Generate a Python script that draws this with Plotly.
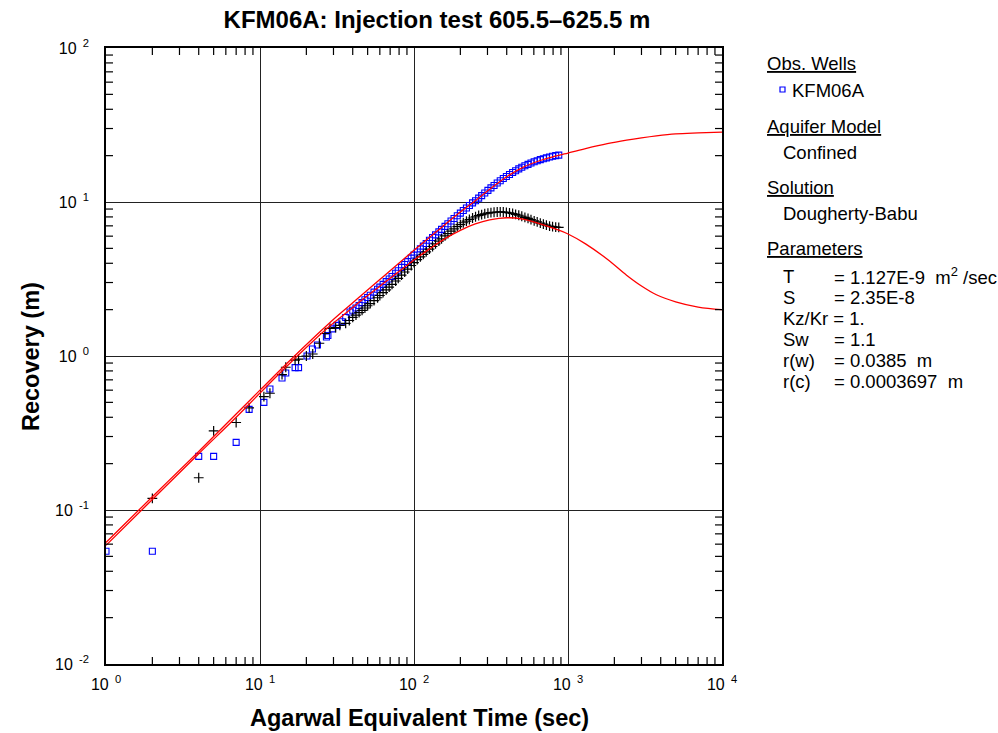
import plotly.graph_objects as go

# ---------------- data ----------------
t_blue_early = [1, 2, 4, 5, 7, 8.5, 10.6, 11.6, 13.9, 14.7, 16.9, 17.8, 20.2, 21.9, 23.6,
                27.0, 27.6, 29.5, 31.6, 34.0, 36.0, 38.4]
y_blue_early = [0.054, 0.054, 0.223, 0.223, 0.275, 0.45, 0.50, 0.61, 0.72, 0.776, 0.84, 0.84,
                1.0, 1.11, 1.18, 1.33, 1.36, 1.50, 1.58, 1.67, 1.78, 1.93]

t_dense = [40, 42, 44, 46, 48, 50, 52, 55, 58, 60, 63, 66, 69, 72, 76, 79, 83, 87, 91, 96,
           100, 105, 110, 115, 120, 126, 132, 138, 145, 151, 159, 166, 174, 182, 191, 200,
           209, 219, 229, 240, 251, 263, 275, 288, 302, 316, 331, 347, 363, 380, 398, 417,
           437, 457, 479, 501, 525, 550, 575, 603, 631, 661, 692, 724, 759, 794, 832, 871]
y_blue_dense = [1.98, 2.05, 2.13, 2.22, 2.32, 2.40, 2.48, 2.60, 2.71, 2.80, 2.92, 3.04, 3.16,
                3.28, 3.45, 3.58, 3.76, 3.93, 4.10, 4.32, 4.52, 4.74, 4.96, 5.17, 5.38, 5.64,
                5.88, 6.12, 6.40, 6.64, 6.95, 7.22, 7.52, 7.82, 8.14, 8.47, 8.80, 9.14, 9.50,
                9.87, 10.2, 10.6, 11.0, 11.45, 11.9, 12.35, 12.8, 13.3, 13.75, 14.2, 14.65,
                15.1, 15.55, 15.95, 16.4, 16.8, 17.2, 17.55, 17.9, 18.25, 18.55, 18.85, 19.1,
                19.35, 19.6, 19.8, 20.0, 20.15]

t_black_early = [2, 4, 5, 7, 8.5, 10.6, 11.6, 13.9, 14.7, 16.9, 17.8, 20.0, 22.0, 24.3, 26.4,
                 28.5, 31.0, 33.0, 36.0, 38.0]
y_black_early = [0.119, 0.162, 0.326, 0.37, 0.46, 0.544, 0.573, 0.756, 0.845, 0.94, 0.955,
                 1.0, 1.03, 1.21, 1.40, 1.51, 1.53, 1.58, 1.63, 1.70]
y_black_dense = [1.78, 1.84, 1.91, 1.98, 2.05, 2.12, 2.19, 2.29, 2.39, 2.47, 2.58, 2.69, 2.80,
                 2.92, 3.07, 3.19, 3.35, 3.51, 3.67, 3.87, 4.04, 4.22, 4.40, 4.57, 4.74, 4.94,
                 5.14, 5.34, 5.57, 5.77, 6.02, 6.24, 6.47, 6.70, 6.93, 7.13, 7.33, 7.52, 7.70,
                 7.87, 8.02, 8.17, 8.29, 8.39, 8.47, 8.53, 8.58, 8.61, 8.62, 8.61, 8.57, 8.50,
                 8.42, 8.32, 8.20, 8.08, 7.95, 7.82, 7.68, 7.55, 7.42, 7.30, 7.18, 7.07, 6.98,
                 6.92, 6.87, 6.85]

t_fit = [1, 2, 4, 7, 10, 16.5, 28.5, 38, 47, 60, 77, 100, 127, 160, 200, 250, 310, 400, 510,
         660, 840, 1000, 1300, 1800, 2400, 3000, 3750, 5000, 7000, 10000]
y_fit_recovery = [0.0615, 0.122, 0.24, 0.42, 0.60, 0.985, 1.65, 2.12, 2.55, 3.14, 3.88, 4.86,
                  5.92, 7.18, 8.6, 10.2, 12.1, 14.6, 16.8, 18.6, 19.9, 20.8, 22.2, 23.9, 25.2,
                  26.1, 26.9, 27.7, 28.1, 28.4]
y_fit_derivative = [0.059, 0.117, 0.232, 0.40, 0.575, 0.945, 1.57, 1.98, 2.35, 2.84, 3.44, 4.2,
                    4.98, 5.8, 6.55, 7.2, 7.65, 7.9, 7.75, 7.2, 6.65, 6.2, 5.35, 4.25, 3.35,
                    2.85, 2.5, 2.25, 2.08, 2.0]

NB = "\u00a0"
x_tickvals = [1, 10, 100, 1000, 10000]
x_ticktext = ["10<sup>" + NB + NB + e + "</sup>" for e in ["0", "1", "2", "3", "4"]]
y_tickvals = [0.01, 0.1, 1, 10, 100]
y_ticktext = ["10<sup>" + NB + NB + e + "</sup>" for e in ["-2", "-1", "0", "1", "2"]]

params = [("T", "= 1.127E-9  m<sup>2</sup> /sec"), ("S", "= 2.35E-8"), ("Kz/Kr = 1.", ""),
          ("Sw", "= 1.1"), ("r(w)", "= 0.0385  m"), ("r(c)", "= 0.0003697  m")]

# ---------------- layout geometry ----------------
W, H = 998, 733
L, R, T, B = 106, 722, 48, 664
FONT = "Arial, Liberation Sans, sans-serif"
TICK_PX = 7
X_RANGE = [0, 4]
Y_RANGE = [-2, 2]


def px(x):
    return (x - L) / (R - L)


def py(y):
    return (B - y) / (B - T)


fig = go.Figure()

fig.add_trace(go.Scatter(x=t_blue_early + t_dense, y=y_blue_early + y_blue_dense, mode="markers",
                         marker=dict(symbol="square-open", size=6, color="#0000ff",
                                     line=dict(width=1.1, color="#0000ff")),
                         showlegend=False))
fig.add_trace(go.Scatter(x=t_black_early + t_dense, y=y_black_early + y_black_dense, mode="markers",
                         marker=dict(symbol="cross-thin", size=7, color="black",
                                     line=dict(width=1.2, color="black")),
                         showlegend=False))
fig.add_trace(go.Scatter(x=t_fit, y=y_fit_recovery, mode="lines", line=dict(color="#ff0000", width=1.3),
                         line_shape="spline", showlegend=False))
fig.add_trace(go.Scatter(x=t_fit, y=y_fit_derivative, mode="lines", line=dict(color="#ff0000", width=1.3),
                         line_shape="spline", showlegend=False))

# minor log ticks, inside, on all four sides (axis furniture)
dec_x = (X_RANGE[1] - X_RANGE[0]) * TICK_PX / (R - L)
dec_y = (Y_RANGE[1] - Y_RANGE[0]) * TICK_PX / (B - T)
xmin, xmax = 10 ** X_RANGE[0], 10 ** X_RANGE[1]
ymin, ymax = 10.0 ** Y_RANGE[0], 10.0 ** Y_RANGE[1]
tx, ty = [], []
for d in range(X_RANGE[0], X_RANGE[1]):
    for k in range(2, 10):
        v = k * 10 ** d
        tx += [v, v, None, v, v, None]
        ty += [ymin, ymin * 10 ** dec_y, None, ymax, ymax / 10 ** dec_y, None]
for d in range(Y_RANGE[0], Y_RANGE[1]):
    for k in range(2, 10):
        v = k * 10.0 ** d
        tx += [xmin, xmin * 10 ** dec_x, None, xmax, xmax / 10 ** dec_x, None]
        ty += [v, v, None, v, v, None]
fig.add_trace(go.Scatter(x=tx, y=ty, mode="lines", line=dict(color="black", width=1.2),
                         hoverinfo="skip", showlegend=False))

axis_common = dict(type="log", showline=True, linecolor="black", linewidth=1.5, mirror=True,
                   showgrid=True, gridcolor="#222222", gridwidth=1, ticks="", zeroline=False,
                   tickfont=dict(family=FONT, size=16, color="black"))

fig.update_layout(
    xaxis=dict(range=X_RANGE, tickmode="array", tickvals=x_tickvals, ticktext=x_ticktext,
               ticklabelstandoff=5, **axis_common),
    yaxis=dict(range=Y_RANGE, tickmode="array", tickvals=y_tickvals, ticktext=y_ticktext,
               ticklabelstandoff=12, **axis_common),
)

ann = []
# axis titles
ann.append(dict(text="<b>Agarwal Equivalent Time (sec)</b>", x=px(419), y=py(718), xref="paper", yref="paper",
                showarrow=False, xanchor="center", yanchor="middle", font=dict(family=FONT, size=23.5, color="black")))
ann.append(dict(text="<b>Recovery (m)</b>", x=px(31), y=py(357), xref="paper", yref="paper", textangle=-90,
                showarrow=False, xanchor="center", yanchor="middle", font=dict(family=FONT, size=23.5, color="black")))

# side panel
pf = dict(family=FONT, size=18.5, color="black")
heads = [("Obs. Wells", 63), ("Aquifer Model", 126), ("Solution", 187), ("Parameters", 248)]
for txt, yy in heads:
    ann.append(dict(text="<u>" + txt + "</u>", x=px(765), y=py(yy), xref="paper", yref="paper",
                    showarrow=False, xanchor="left", yanchor="middle", font=pf))
subs = [("KFM06A", 790, 90), ("Confined", 781, 153), ("Dougherty-Babu", 781, 214)]
for txt, xx, yy in subs:
    ann.append(dict(text=txt, x=px(xx), y=py(yy), xref="paper", yref="paper",
                    showarrow=False, xanchor="left", yanchor="middle", font=pf))
for i, (lab, val) in enumerate(params):
    yy = 276 + 21 * i
    ann.append(dict(text=lab, x=px(781), y=py(yy), xref="paper", yref="paper",
                    showarrow=False, xanchor="left", yanchor="middle", font=pf))
    if val:
        ann.append(dict(text=val, x=px(832), y=py(yy), xref="paper", yref="paper",
                        showarrow=False, xanchor="left", yanchor="middle", font=pf))

shapes = [dict(type="rect", xref="paper", yref="paper", x0=px(780), x1=px(785), y0=py(92), y1=py(87),
               line=dict(color="#0000ff", width=1.2))]

fig.update_layout(
    width=W, height=H, autosize=False,
    margin=dict(l=L, r=W - R, t=T, b=H - B, pad=0),
    paper_bgcolor="white", plot_bgcolor="white",
    title=dict(text="<b>KFM06A: Injection test 605.5–625.5 m</b>", x=437 / W, y=1 - 20 / H,
               xanchor="center", yanchor="middle", xref="container", yref="container",
               font=dict(family=FONT, size=24, color="black")),
    annotations=ann, shapes=shapes, showlegend=False,
)

fig.write_html("out.html")
